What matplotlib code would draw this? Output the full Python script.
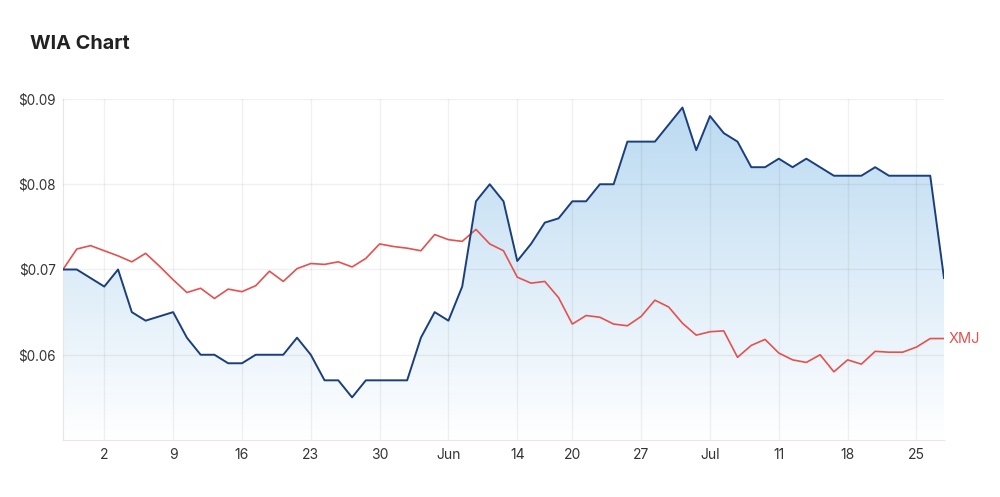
import numpy as np
import pandas as pd
import matplotlib
matplotlib.use('Agg')
import matplotlib.pyplot as plt
from matplotlib.colors import LinearSegmentedColormap

plt.rcParams['font.family'] = ['Inter', 'DejaVu Sans']

# trading days (ASX), 27 Apr - 27 Jul 2022, Jun 13 holiday
dates = pd.bdate_range('2022-04-27', '2022-07-27')
dates = dates[dates != pd.Timestamp('2022-06-13')]

wia = [0.070, 0.070, 0.069, 0.068, 0.070, 0.065, 0.064, 0.0645, 0.065, 0.062,
       0.060, 0.060, 0.059, 0.059, 0.060, 0.060, 0.060, 0.062, 0.060, 0.057,
       0.057, 0.055, 0.057, 0.057, 0.057, 0.057, 0.062, 0.065, 0.064, 0.068,
       0.078, 0.080, 0.078, 0.071, 0.073, 0.0755, 0.076, 0.078, 0.078, 0.080,
       0.080, 0.085, 0.085, 0.085, 0.087, 0.089, 0.084, 0.088, 0.086, 0.085,
       0.082, 0.082, 0.083, 0.082, 0.083, 0.082, 0.081, 0.081, 0.081, 0.082,
       0.081, 0.081, 0.081, 0.081, 0.069]

# XMJ rebased to WIA's first price
xmj = [0.0700, 0.0724, 0.0728, 0.0722, 0.0716, 0.0709, 0.0719, 0.0704, 0.0688, 0.0673,
       0.0678, 0.0666, 0.0677, 0.0674, 0.0681, 0.0698, 0.0686, 0.0701, 0.0707, 0.0706,
       0.0709, 0.0703, 0.0713, 0.0730, 0.0727, 0.0725, 0.0722, 0.0741, 0.0735, 0.0733,
       0.0747, 0.0730, 0.0722, 0.0691, 0.0684, 0.0686, 0.0667, 0.0636, 0.0646, 0.0644,
       0.0636, 0.0634, 0.0645, 0.0664, 0.0656, 0.0637, 0.0623, 0.0627, 0.0628, 0.0597,
       0.0611, 0.0618, 0.0602, 0.0594, 0.0591, 0.0600, 0.0580, 0.0594, 0.0589, 0.0604,
       0.0603, 0.0603, 0.0609, 0.0619, 0.0619]

tick_dates = ['2022-05-02', '2022-05-09', '2022-05-16', '2022-05-23', '2022-05-30',
              '2022-06-06', '2022-06-14', '2022-06-20', '2022-06-27', '2022-07-04',
              '2022-07-11', '2022-07-18', '2022-07-25']
tick_labels = ['2', '9', '16', '23', '30', 'Jun', '14', '20', '27', 'Jul', '11', '18', '25']

y_ticks = [0.06, 0.07, 0.08, 0.09]

x = np.arange(len(dates))
tick_pos = dates.searchsorted(pd.to_datetime(tick_dates))

fig = plt.figure(figsize=(10, 4.97), dpi=100)
ax = fig.add_axes([0.063, 0.1147, 0.881, 0.6861])

ymin, ymax = 0.05, 0.09
ax.set_xlim(x[0], x[-1])
ax.set_ylim(ymin, ymax)

# gradient fill under WIA
poly = ax.fill_between(x, wia, ymin, facecolor='none', edgecolor='none')
cmap = LinearSegmentedColormap.from_list('g', ['#ffffff', '#b9d9f1'])
grad = np.linspace(0, 1, 256).reshape(-1, 1)
im = ax.imshow(grad, extent=[x[0], x[-1], ymin, ymax], aspect='auto',
               cmap=cmap, origin='lower', zorder=1)
im.set_clip_path(poly.get_paths()[0], transform=ax.transData)

ax.plot(x, wia, color='#1b3f7a', lw=1.4, zorder=4)
ax.plot(x, xmj, color='#e4514f', lw=1.2, zorder=3)
ax.text(x[-1] + 0.3, xmj[-1], 'XMJ', color='#e4514f', fontsize=10.5,
        va='center', ha='left', clip_on=False)

ax.set_yticks(y_ticks)
ax.set_yticklabels(['$%.2f' % v for v in y_ticks])
ax.set_xticks(tick_pos)
ax.set_xticklabels(tick_labels)
ax.tick_params(length=0, labelsize=10, labelcolor='#333333')
ax.tick_params(axis='y', labelsize=9.7, pad=5)
ax.tick_params(axis='x', pad=6)

ax.grid(True, color='black', alpha=0.055, lw=1, zorder=2)
ax.set_axisbelow(False)
for s in ['top', 'right']:
    ax.spines[s].set_visible(False)
for s in ['left', 'bottom']:
    ax.spines[s].set_color('#e6e6e6')

fig.text(0.03, 0.911, 'WIA Chart', fontsize=14.3, fontweight='bold',
         color='#222222', va='center', ha='left')

fig.savefig('out.png', dpi=100)
